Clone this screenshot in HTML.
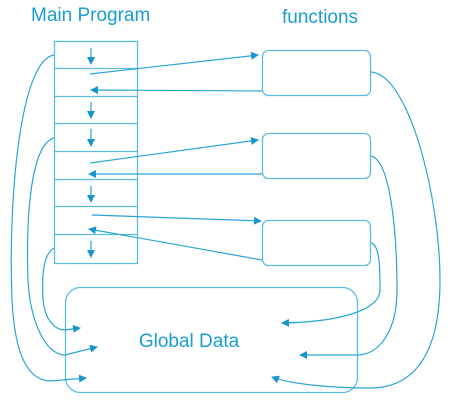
<!DOCTYPE html>
<html><head><style>body{margin:0;background:#fff}svg{display:block}</style></head><body>
<svg width="457" height="409" viewBox="0 0 457 409" xmlns="http://www.w3.org/2000/svg">
<defs><marker id="a" markerWidth="8" markerHeight="8" refX="7" refY="4" orient="auto" markerUnits="userSpaceOnUse"><path d="M0,0 L8,4 L0,8 z" fill="#1797c9"/></marker></defs>
<g font-family="Liberation Sans, sans-serif" fill="#1a9dd3">
<text x="31" y="21" font-size="19">Main Program</text>
<text x="282" y="23" font-size="19">functions</text>
<text x="189" y="347" font-size="19" text-anchor="middle">Global Data</text>
</g>
<g fill="none" stroke="#5cbde0" stroke-width="1.3">
<rect x="54.5" y="41.5" width="83" height="222"/>
<path d="M54 68.5H137M54 96.5H137M54 123.5H137M54 151.5H137M54 179.5H137M54 206.5H137M54 234.5H137"/>
<rect x="262.5" y="50.5" width="108" height="45" rx="6"/>
<rect x="262.5" y="133.5" width="108" height="45" rx="6"/>
<rect x="262.5" y="220.5" width="108" height="45" rx="6"/>
<rect x="65.5" y="287.5" width="292" height="105" rx="15"/>
</g>
<g fill="none" stroke="#2aa5d5" stroke-width="1.2" marker-end="url(#a)">
<path d="M91 48V64"/><path d="M91 102V118"/><path d="M91 129V146"/><path d="M91 186V202"/><path d="M91 241V257"/>
<path d="M90 74L258 55"/><path d="M262 91L91 90"/>
<path d="M90 163L258 140"/><path d="M262 174L89 174"/>
<path d="M92 215L261 221"/><path d="M262 260L89 229"/>
<path d="M54 55C20 60 8 200 12 300C15 360 30 380 50 381L86 378"/>
<path d="M54 138C30 145 26 220 28 280C30 320 45 355 65 355L97 347"/>
<path d="M54 248C42 255 42 280 43 300C45 320 55 330 65 330L80 328"/>
<path d="M371 72C410 75 440 200 440 280C440 360 410 388 370 388C330 388 290 384 272 377"/>
<path d="M371 156C390 160 397 230 397 290C397 330 380 355 357 355L300 355"/>
<path d="M371 243C380 245 380 270 380 290C380 310 340 322 282 323"/>
</g>
</svg>
</body></html>
